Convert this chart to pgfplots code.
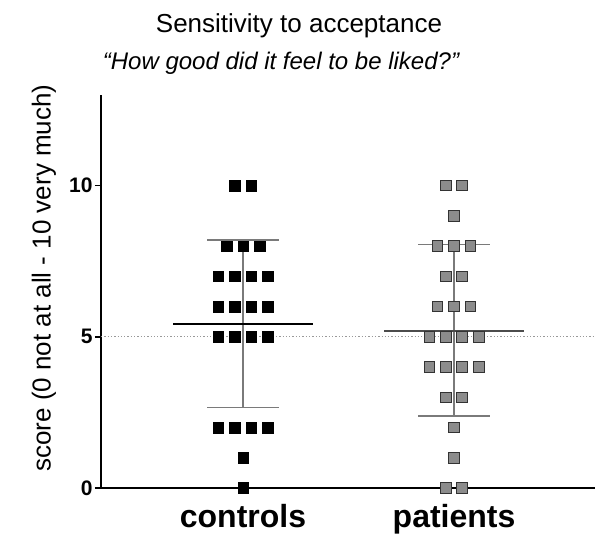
\documentclass[border=0pt]{standalone}
\usepackage{pgfplots}
\pgfplotsset{compat=1.18}
\usepackage{fontspec}
\setmainfont{Liberation Sans}
\definecolor{ptfill}{HTML}{8C8C8C}
\definecolor{ptedge}{HTML}{333333}
\definecolor{sdgray}{HTML}{7A7A7A}
\begin{document}
\begin{tikzpicture}
\begin{axis}[
  scale only axis, width=494pt, height=393pt,
  xmin=-0.673, xmax=1.668, ymin=0, ymax=13,
  axis x line=bottom, axis y line=left,
  axis line style={-, line width=1.4pt},
  xtick={0,1}, xticklabels={controls,patients},
  x tick style={draw=none},
  ytick={0,5,10},
  y tick style={line width=1.4pt, black},
  tick align=outside, major tick length=6pt,
  /pgf/number format/assume math mode=true,
  yticklabel style={font=\fontsize{21}{21}\selectfont\bfseries, xshift=1pt},
  xticklabel style={font=\fontsize{32}{32}\selectfont\bfseries, yshift=-7pt},
  clip=false,
]
\coordinate (O) at (rel axis cs:0,0);
% reference line at 5
\addplot[gray!80, dotted, line width=1.3pt] coordinates {(-0.673,5) (1.668,5)};
% controls: mean and SD
\addplot[sdgray, line width=1.6pt] coordinates {(0,2.66) (0,8.21)};
\addplot[sdgray, line width=1.6pt] coordinates {(-0.17,8.21) (0.17,8.21)};
\addplot[sdgray, line width=1.6pt] coordinates {(-0.17,2.66) (0.17,2.66)};
\addplot[black, line width=1.6pt] coordinates {(-0.33,5.43) (0.33,5.43)};
% patients: mean and SD
\addplot[sdgray, line width=1.6pt] coordinates {(1,2.38) (1,8.05)};
\addplot[sdgray, line width=1.6pt] coordinates {(0.83,8.05) (1.17,8.05)};
\addplot[sdgray, line width=1.6pt] coordinates {(0.83,2.38) (1.17,2.38)};
\addplot[black!70, line width=1.6pt] coordinates {(0.67,5.2) (1.33,5.2)};
% controls points
\addplot[only marks, mark=square*, mark size=5.3pt, mark options={fill=black, draw=black}] coordinates {
 (-0.039,10) (0.039,10)
 (-0.078,8) (0,8) (0.078,8)
 (-0.117,7) (-0.039,7) (0.039,7) (0.117,7)
 (-0.117,6) (-0.039,6) (0.039,6) (0.117,6)
 (-0.117,5) (-0.039,5) (0.039,5) (0.117,5)
 (-0.117,2) (-0.039,2) (0.039,2) (0.117,2)
 (0,1) (0,0)
};
% patients points
\addplot[only marks, mark=square*, mark size=5.3pt, mark options={fill=ptfill, draw=ptedge, line width=1pt}] coordinates {
 (0.961,10) (1.039,10)
 (1,9)
 (0.922,8) (1,8) (1.078,8)
 (0.961,7) (1.039,7)
 (0.922,6) (1,6) (1.078,6)
 (0.883,5) (0.961,5) (1.039,5) (1.117,5)
 (0.883,4) (0.961,4) (1.039,4) (1.117,4)
 (0.961,3) (1.039,3)
 (1,2)
 (1,1)
 (0.961,0) (1.039,0)
};
\end{axis}
\node[anchor=base, font=\fontsize{26}{26}\selectfont] at ([shift={(198pt,455pt)}]O) {Sensitivity to acceptance};
\node[anchor=base, font=\fontsize{24}{24}\selectfont\itshape] at ([shift={(180pt,418pt)}]O) {“How good did it feel to be liked?”};
\node[rotate=90, font=\fontsize{26}{26}\selectfont] at ([shift={(-57pt,210pt)}]O) {score (0 not at all - 10 very much)};
\pgfresetboundingbox
\path[use as bounding box] ([shift={(-101pt,-55pt)}]O) rectangle ([shift={(512pt,488pt)}]O);
\end{tikzpicture}
\end{document}
